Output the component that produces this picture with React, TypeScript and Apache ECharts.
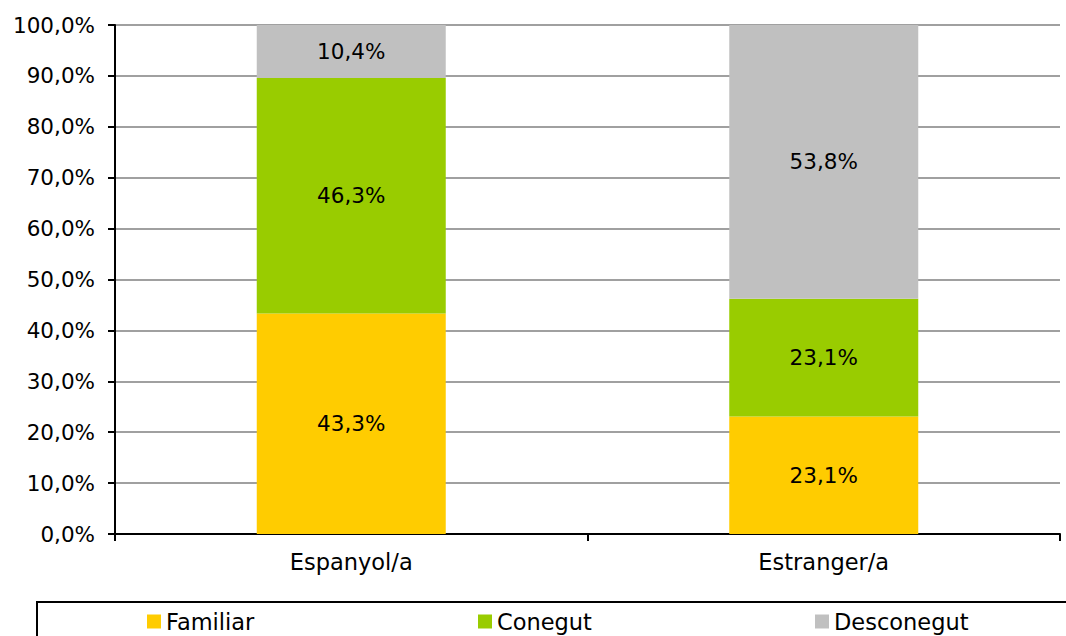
import React, { useEffect, useRef } from "react";
import * as echarts from "echarts";

const categories = ["Espanyol/a", "Estranger/a"];
const seriesNames = ["Familiar", "Conegut", "Desconegut"];
const familiar = [43.3, 23.1];
const conegut = [46.3, 23.1];
const desconegut = [10.4, 53.8];
const colors = ["#FFCC00", "#99CC00", "#C0C0C0"];

const FONT = "DejaVu Sans";
const FS_NUM = 21.5;
const FS_TXT = 22.5;

const fmt = (v: number) => v.toFixed(1).replace(".", ",") + "%";

export default function App() {
  const ref = useRef<HTMLDivElement>(null);
  useEffect(() => {
    if (!ref.current) return;
    const chart = echarts.init(ref.current, undefined, { renderer: "svg" });
    const values = [familiar, conegut, desconegut];
    const legendLefts = [142, 473, 810];
    chart.setOption({
      animation: false,
      textStyle: { fontFamily: FONT },
      grid: { left: 115, right: 6, top: 25, bottom: 102 },
      xAxis: {
        type: "category",
        data: categories,
        axisLine: { lineStyle: { color: "#000", width: 2 } },
        axisTick: { show: true, length: 7, lineStyle: { color: "#000", width: 2 } },
        axisLabel: { color: "#000", fontSize: FS_TXT, fontFamily: FONT, margin: 16 },
      },
      yAxis: {
        type: "value",
        min: 0,
        max: 100,
        interval: 10,
        axisLine: { show: true, lineStyle: { color: "#000", width: 2 } },
        axisTick: { show: true, length: 7, lineStyle: { color: "#000", width: 2 } },
        axisLabel: { color: "#000", fontSize: FS_NUM, fontFamily: FONT, margin: 20, formatter: fmt },
        splitLine: { lineStyle: { color: "#808080", width: 1.5 } },
      },
      legend: seriesNames.map((n, i) => ({
        data: [n],
        left: legendLefts[i],
        top: 605,
        icon: "rect",
        itemWidth: 14,
        itemHeight: 14,
        selectedMode: false,
        textStyle: { color: "#000", fontSize: FS_TXT, fontFamily: FONT },
      })),
      graphic: [
        {
          type: "rect",
          shape: { x: 37, y: 602, width: 1200, height: 200 },
          style: { fill: "none", stroke: "#000", lineWidth: 2 },
          silent: true,
        },
      ],
      series: seriesNames.map((n, i) => ({
        name: n,
        type: "bar",
        stack: "total",
        barWidth: "40%",
        data: values[i],
        itemStyle: { color: colors[i] },
        label: {
          show: true,
          position: "inside",
          color: "#000",
          fontSize: FS_NUM,
          fontFamily: FONT,
          formatter: (p: any) => fmt(p.value),
        },
      })),
    });
    return () => chart.dispose();
  }, []);
  return (
    <div
      ref={ref}
      style={{ position: "fixed", left: 0, top: 0, width: 1066, height: 636, background: "#fff" }}
    />
  );
}
